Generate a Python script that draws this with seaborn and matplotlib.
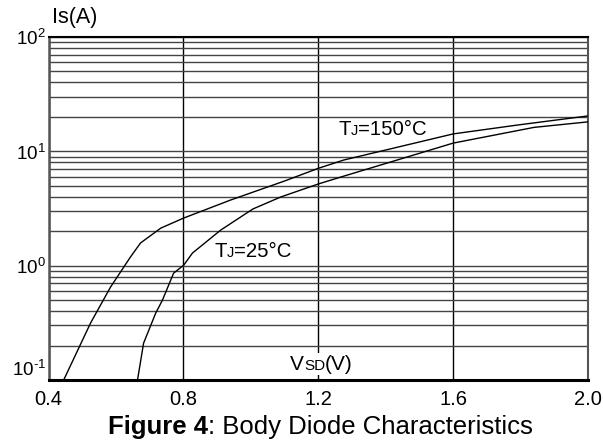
import numpy as np
import pandas as pd
import matplotlib
matplotlib.use("Agg")
import matplotlib.pyplot as plt
import seaborn as sns
from matplotlib.ticker import LogLocator, NullFormatter, FixedLocator
from matplotlib.offsetbox import TextArea, HPacker, AnnotationBbox

# ---- data ----
v_150 = [0.445, 0.525, 0.584, 0.643, 0.673, 0.733, 0.801, 0.940, 1.050, 1.100, 1.200, 1.276, 1.600, 1.792, 2.000]
i_150 = [0.10, 0.316, 0.65, 1.19, 1.58, 2.13, 2.61, 3.75, 4.88, 5.5, 7.1, 8.4, 14.2, 17.0, 20.4]
v_25 = [0.664, 0.682, 0.718, 0.738, 0.771, 0.801, 0.827, 0.911, 1.006, 1.089, 1.200, 1.267, 1.600, 1.840, 2.000]
i_25 = [0.10, 0.21, 0.385, 0.50, 0.86, 1.01, 1.29, 2.05, 3.13, 3.99, 5.18, 5.96, 11.8, 16.2, 18.1]
x_ticks = [0.4, 0.8, 1.2, 1.6, 2.0]
y_ticks = [0.1, 1, 10, 100]
y_tick_labels = [r"$10^{\text{-}1}$", r"$10^{0}$", r"$10^{1}$", r"$10^{2}$"]

df = pd.concat([
    pd.DataFrame({"V": v_150, "I": i_150, "T": "150"}),
    pd.DataFrame({"V": v_25, "I": i_25, "T": "25"}),
])

sns.set_style("white")
plt.rcParams["font.family"] = ["Liberation Sans", "DejaVu Sans"]
plt.rcParams["mathtext.fontset"] = "custom"
plt.rcParams["mathtext.rm"] = "Liberation Sans"

fig = plt.figure(figsize=(6.03, 4.43), dpi=100)
ax = fig.add_axes([48.5 / 603, 1 - 380 / 443, (588 - 48.5) / 603, (380 - 37) / 443])

ax.set_yscale("log")
ax.set_xlim(0.4, 2.0)
ax.set_ylim(0.1, 100)

sns.lineplot(data=df, x="V", y="I", units="T", estimator=None, sort=False,
             color="black", lw=1.0, ax=ax, legend=False, zorder=5)

ax.set_xticks(x_ticks)
ax.set_xticklabels([f"{t:.1f}" for t in x_ticks])
ax.yaxis.set_major_locator(FixedLocator(y_ticks))
ax.yaxis.set_minor_locator(LogLocator(base=10, subs=np.arange(2, 10)))
ax.yaxis.set_minor_formatter(NullFormatter())
ax.set_yticklabels(y_tick_labels)
ax.tick_params(axis="both", which="both", length=0, colors="black")
ax.tick_params(axis="x", pad=7, labelsize=14.5)
ax.tick_params(axis="y", pad=2, labelsize=13.5)
for lbl in ax.get_yticklabels()[:1]:
    lbl.set_verticalalignment("bottom")
    lbl.set_y(0.1)

ax.grid(True, which="both", axis="y", color="#444444", lw=1.0)
ax.grid(True, which="major", axis="x", color="black", lw=1.0)
ax.set_axisbelow(True)
ax.set_xlabel("")
ax.set_ylabel("")

for side, c, w in [("bottom", "black", 2.2), ("top", "black", 1.5), ("left", "#555555", 1.8), ("right", "#555555", 1.5)]:
    ax.spines[side].set_visible(True)
    ax.spines[side].set_color(c)
    ax.spines[side].set_linewidth(w)


def rich(parts, xy, xycoords, ax_or_fig, bg=None):
    boxes = [TextArea(t, textprops=dict(fontsize=s, fontweight=w, color="black")) for t, s, w in parts]
    pack = HPacker(children=boxes, align="baseline", pad=0, sep=0)
    ab = AnnotationBbox(pack, xy, xycoords=xycoords, frameon=bg is not None,
                        box_alignment=(0.5, 0.5), pad=0.1, zorder=10)
    if bg is not None:
        ab.patch.set_facecolor(bg)
        ab.patch.set_edgecolor("none")
    ax_or_fig.add_artist(ab)


rich([("T", 14.7, "normal"), ("J", 10.5, "normal"), ("=150°C", 14.7, "normal")], (1.39, 15.4), "data", ax)
rich([("T", 14.7, "normal"), ("J", 10.5, "normal"), ("=25°C", 14.7, "normal")], (1.006, 1.34), "data", ax)
rich([("V", 15, "normal"), ("SD", 11, "normal"), ("(V)", 15, "normal")], (1.21, 0.137), "data", ax, bg="white")
rich([("Is(A)", 15.5, "normal")], (75 / 603, 1 - 18 / 443), "figure fraction", fig)
rich([("Figure 4", 18.5, "bold"), (": Body Diode Characteristics", 18.5, "normal")], (320 / 603, 1 - 427 / 443), "figure fraction", fig)

fig.savefig("out.png", dpi=100)
